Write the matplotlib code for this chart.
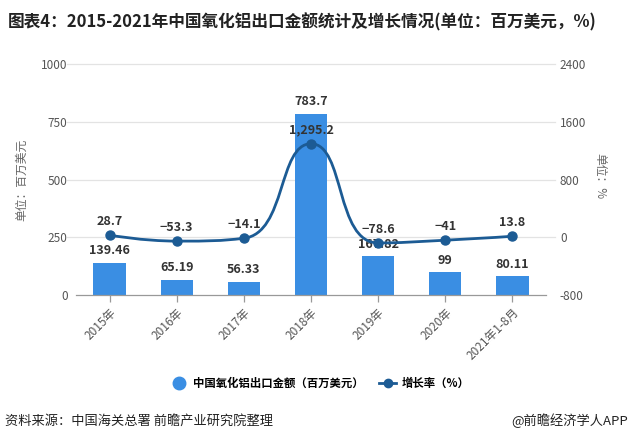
import matplotlib
matplotlib.use("Agg")
import matplotlib.pyplot as plt
from matplotlib.path import Path
from matplotlib.patches import PathPatch
from matplotlib.lines import Line2D
import numpy as np

plt.rcParams['font.family'] = ['Noto Sans CJK SC', 'DejaVu Sans']

categories = ["2015年", "2016年", "2017年", "2018年", "2019年", "2020年", "2021年1-8月"]
export_values = [139.46, 65.19, 56.33, 783.7, 167.82, 99, 80.11]
export_labels = ["139.46", "65.19", "56.33", "783.7", "167.82", "99", "80.11"]
growth_values = [28.7, -53.3, -14.1, 1295.2, -78.6, -41, 13.8]
growth_labels = ["28.7", "−53.3", "−14.1", "1,295.2", "−78.6", "−41", "13.8"]
left_ticks = [0, 250, 500, 750, 1000]
right_ticks = [-800, 0, 800, 1600, 2400]

BAR = "#3a8ee3"
LINE = "#1c5b94"
TXT = "#333333"
TICK = "#555555"

W, H = 638, 437
fig = plt.figure(figsize=(W / 100, H / 100), dpi=100)
L, R, T, B = 76, 546, 64, 295
ax = fig.add_axes([L / W, 1 - B / H, (R - L) / W, (B - T) / H])
ax2 = ax.twinx()

x = np.arange(len(categories))
ax.set_xlim(-0.5, len(categories) - 0.5)
ax.set_ylim(0, 1000)
ax2.set_ylim(-800, 2400)

# grid
for t in left_ticks[1:]:
    ax.axhline(t, xmin=-0.019, xmax=1.019, color="#e3e3e3", lw=0.9, clip_on=False, zorder=0)

ax.bar(x, export_values, width=0.48, color=BAR, zorder=2)

# smooth line (echarts-5-like bezier with clamped control points), in pixel-proportional coords
sx = (R - L) / len(categories)
sy = (B - T) / 3200.0
px = x * sx
py = np.array(growth_values) * sy
smooth = 0.5
n = len(px)


def clamp(v, a, b):
    return min(max(v, min(a, b)), max(a, b))


cp_in = [None] * n   # control point arriving at point i
cp_out = [None] * n  # control point leaving point i
for i in range(n):
    X, Y = px[i], py[i]
    if i == 0 or i == n - 1:
        cp_in[i] = (X, Y)
        cp_out[i] = (X, Y)
        continue
    pX, pY = px[i - 1], py[i - 1]
    nX, nY = px[i + 1], py[i + 1]
    vx, vy = nX - pX, nY - pY
    lp = np.hypot(X - pX, Y - pY)
    ln = np.hypot(nX - X, nY - Y)
    ratio = ln / (ln + lp)
    ox = X + vx * smooth * ratio
    oy = Y + vy * smooth * ratio
    ox = clamp(ox, nX, X)
    oy = clamp(oy, nY, Y)
    vx, vy = ox - X, oy - Y
    ix = X - vx * lp / ln
    iy = Y - vy * lp / ln
    ix = clamp(ix, pX, X)
    iy = clamp(iy, pY, Y)
    vx, vy = X - ix, Y - iy
    ox = X + vx * ln / lp
    oy = Y + vy * ln / lp
    cp_in[i] = (ix, iy)
    cp_out[i] = (ox, oy)

verts = [(x[0], growth_values[0])]
codes = [Path.MOVETO]
for i in range(n - 1):
    c1 = cp_out[i]
    c2 = cp_in[i + 1]
    verts += [(c1[0] / sx, c1[1] / sy), (c2[0] / sx, c2[1] / sy), (x[i + 1], growth_values[i + 1])]
    codes += [Path.CURVE4] * 3
ax2.add_patch(PathPatch(Path(verts, codes), facecolor="none", edgecolor=LINE, lw=2, zorder=3))
ax2.plot(x, growth_values, linestyle="none", marker="o", ms=6.5, color=LINE, zorder=4)

for xi, v, lab in zip(x, export_values, export_labels):
    ax.annotate(lab, (xi, v), xytext=(0, 4), textcoords="offset points", ha="center", va="bottom",
                fontsize=9, fontweight="bold", color=TXT, zorder=5)
for xi, v, lab in zip(x, growth_values, growth_labels):
    ax2.annotate(lab, (xi, v), xytext=(0, 5), textcoords="offset points", ha="center", va="bottom",
                 fontsize=9, fontweight="bold", color=TXT, zorder=5)

for a in (ax, ax2):
    for s in a.spines.values():
        s.set_visible(False)
ax.spines["bottom"].set_visible(True)
ax.spines["bottom"].set_color("#999999")
ax.spines["bottom"].set_linewidth(0.9)

ax.set_xticks(x)
ax.set_xticklabels(categories, rotation=45, ha="right", rotation_mode="anchor", fontsize=8.5, color=TICK)
ax.tick_params(axis="x", length=5, color="#999999", width=0.9, pad=3)
ax.set_yticks(left_ticks)
ax.set_yticklabels([str(t) for t in left_ticks], fontsize=8.5, color=TICK)
ax.tick_params(axis="y", length=0, pad=6)
ax2.set_yticks(right_ticks)
ax2.set_yticklabels([str(t) for t in right_ticks], fontsize=8.5, color=TICK)
ax2.tick_params(axis="y", length=0, pad=10)

fig.text(22 / W, 1 - 180 / H, "单位：百万美元", rotation=90, ha="center", va="center", fontsize=8.5, color="#666666")
fig.text(600 / W, 1 - 176 / H, "单位：%", rotation=-90, ha="center", va="center", fontsize=8.5, color="#666666")

fig.text(8 / W, 1 - 22 / H, "图表4：2015-2021年中国氧化铝出口金额统计及增长情况(单位：百万美元，%)",
         ha="left", va="center", fontsize=12, fontweight="bold", color="#222222")

handles = [
    Line2D([], [], linestyle="none", marker="o", ms=9, color=BAR),
    Line2D([], [], color=LINE, lw=2, marker="o", ms=6),
]
fig.legend(handles, ["中国氧化铝出口金额（百万美元）", "增长率（%）"], loc="center",
           bbox_to_anchor=(320 / W, 1 - 383 / H), ncol=2, frameon=False,
           handlelength=1.5, columnspacing=1.4, handletextpad=0.5,
           prop={"weight": "bold", "size": 8.2})

fig.text(5 / W, 1 - 421 / H, "资料来源：中国海关总署 前瞻产业研究院整理", ha="left", va="center", fontsize=9.5, color="#222222")
fig.text(628 / W, 1 - 421 / H, "@前瞻经济学人APP", ha="right", va="center", fontsize=9.5, color="#222222")

fig.savefig("out.png", dpi=100)
